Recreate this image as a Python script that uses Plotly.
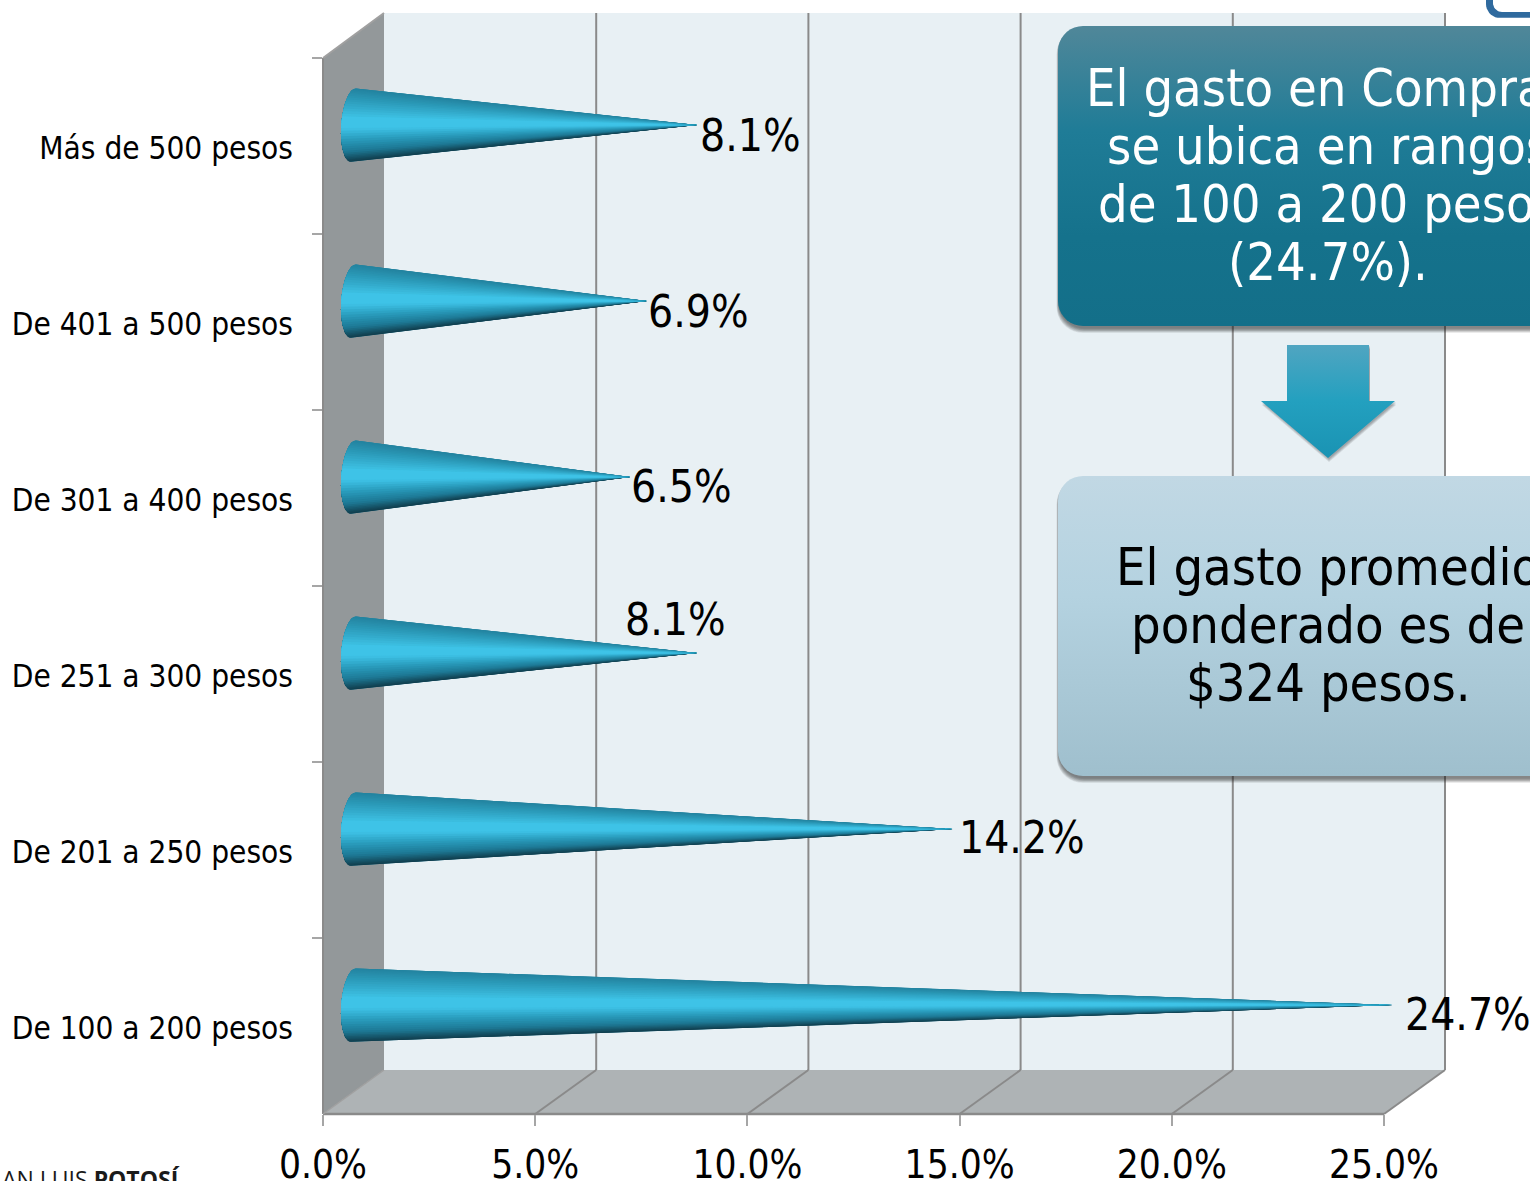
import numpy as np
import plotly.graph_objects as go

categories = ["De 100 a 200 pesos", "De 201 a 250 pesos", "De 251 a 300 pesos",
              "De 301 a 400 pesos", "De 401 a 500 pesos", "Más de 500 pesos"]
values = [24.7, 14.2, 8.1, 6.5, 6.9, 8.1]
value_labels = ["24.7%", "14.2%", "8.1%", "6.5%", "6.9%", "8.1%"]
label_xshift = [11, 4, -74, -1, -1, 1]
label_yshift = [-9, -8, 34, -9, -10, -10]
x_ticks = [0, 5, 10, 15, 20, 25]
x_tick_labels = ["0.0%", "5.0%", "10.0%", "15.0%", "20.0%", "25.0%"]
box1_lines = ["El gasto en Compras", "se ubica en rangos", "de 100 a 200 pesos", "(24.7%)."]
box2_lines = ["El gasto promedio", "ponderado es de", "$324 pesos."]

W, H = 1530, 1181
FONT = "DejaVu Sans Condensed, Tahoma, DejaVu Sans"
X0, X25, XR = 323, 1384, 1445
PX_PER_UNIT = (X25 - X0) / 25
DEPTH_X = XR - X25
Y_TOP_F, Y_BOT_F, Y_TOP_B, Y_BOT_B = 58, 1114, 13, 1070
GRID = "#8a8a8a"


def py(y):
    return 1 - y / H


def px_x(x):
    return x / W


fig = go.Figure()


def poly_shape(pts, fill, line=None, width=0):
    path = "M" + " L".join(f"{px_x(x):.5f},{py(y):.5f}" for x, y in pts) + " Z"
    fig.add_shape(type="path", path=path, xref="paper", yref="paper", fillcolor=fill,
                  line=dict(color=line or fill, width=width), layer="below")


def seg(x1, y1, x2, y2, color=GRID, width=2):
    fig.add_shape(type="line", xref="paper", yref="paper", x0=px_x(x1), x1=px_x(x2),
                  y0=py(y1), y1=py(y2), line=dict(color=color, width=width), layer="below")


# back wall, side wall, floor
poly_shape([(X0 + DEPTH_X, Y_TOP_B), (XR, Y_TOP_B), (XR, Y_BOT_B), (X0 + DEPTH_X, Y_BOT_B)], "#e8f0f4")
poly_shape([(X0, Y_TOP_F), (X0 + DEPTH_X, Y_TOP_B), (X0 + DEPTH_X, Y_BOT_B), (X0, Y_BOT_F)], "#93989a")
poly_shape([(X0, Y_BOT_F), (X0 + DEPTH_X, Y_BOT_B), (XR, Y_BOT_B), (X25, Y_BOT_F)], "#aeb3b5")
for t in x_ticks[1:]:
    fx = X0 + t * PX_PER_UNIT
    seg(fx + DEPTH_X, Y_TOP_B, fx + DEPTH_X, Y_BOT_B)
    seg(fx, Y_BOT_F, fx + DEPTH_X, Y_BOT_B)
seg(X0, Y_BOT_F, X25, Y_BOT_F, width=2.5)
seg(X0, Y_TOP_F, X0, Y_BOT_F)
seg(X0, Y_TOP_F, X0 + DEPTH_X, Y_TOP_B, "#a0a0a0", 2)
seg(X0 + DEPTH_X, Y_BOT_B, X0, Y_BOT_F, "#a0a0a0", 1.5)

# invisible trace so the category axis exists
fig.add_trace(go.Scatter(x=[0] * 6, y=categories, mode="markers", marker=dict(opacity=0),
                         hoverinfo="skip", showlegend=False, xaxis="x", yaxis="y"))

# cones: nested polygons painted from the edges in to the highlight, so there are no seams
STOPS = [(0.0, (36, 132, 160)), (0.12, (42, 150, 180)), (0.42, (64, 198, 234)), (0.56, (60, 190, 226)),
         (0.72, (40, 152, 184)), (0.86, (30, 122, 150)), (1.0, (18, 62, 78))]


def shade(p):
    xs = [s[0] for s in STOPS]
    return "rgb(" + ",".join(str(int(np.interp(p, xs, [s[1][i] for s in STOPS]))) for i in range(3)) + ")"


N = 40
ANG = np.linspace(np.pi / 2, -np.pi / 2, N + 1)
PEAK = int(np.argmin(np.abs((0.5 - 0.5 * np.sin(ANG)) - 0.47)))
A, TILT, R, BASE = 0.29, 0.06, 0.208, -0.11


def cone_piece(i, v, angles, col):
    bx = BASE - A * np.cos(angles) + TILT * np.sin(angles)
    by = i + R * np.sin(angles)
    fig.add_trace(go.Scatter(x=list(bx) + [v, bx[0]], y=list(by) + [i, by[0]], mode="lines", fill="toself",
                             fillcolor=col, line=dict(color=col, width=0),
                             hoverinfo="skip", showlegend=False, xaxis="x2", yaxis="y2"))


for i, v in enumerate(values):
    # outer silhouette, including the thin outline at the base
    cone_piece(i, v, ANG, shade(0.0))
    for k in range(0, PEAK):
        cone_piece(i, v, ANG[k:PEAK + 3], shade(0.5 - 0.5 * np.sin(ANG[k:k + 2].mean())))
    for k in range(N, PEAK, -1):
        cone_piece(i, v, ANG[PEAK:k + 1], shade(0.5 - 0.5 * np.sin(ANG[k - 1:k + 1].mean())))
    # highlight on top hides the hairline where the two halves meet
    cone_piece(i, v, ANG[PEAK - 2:PEAK + 3], shade(0.47))


# page-pixel subplot for callouts
def rrect(x0, y0, x1, y1, r, n=10):
    pts = []
    for cx, cy, a0 in [(x0 + r, y0 + r, 180), (x1 - r, y0 + r, 270), (x1 - r, y1 - r, 0), (x0 + r, y1 - r, 90)]:
        for a in np.radians(np.linspace(a0, a0 + 90, n)):
            pts.append((cx + r * np.cos(a), cy + r * np.sin(a)))
    pts.append(pts[0])
    return zip(*pts)


def deco(xs, ys, fill=None, grad=None, y0=None, y1=None):
    kw = dict(fillcolor=fill) if fill else dict(fillgradient=dict(type="vertical", colorscale=grad, start=y0, stop=y1))
    fig.add_trace(go.Scatter(x=list(xs), y=list(ys), mode="lines", fill="toself", line=dict(width=0, color="rgba(0,0,0,0)"),
                             hoverinfo="skip", showlegend=False, xaxis="x3", yaxis="y3", **kw))


for (y0, y1, grad) in [
    (26, 326, [[0, "#508799"], [0.35, "#1f7c97"], [0.7, "#15728c"], [1, "#136f89"]]),
    (476, 776, [[0, "#c1d8e4"], [0.4, "#b4d2e0"], [1, "#9fbfcd"]]),
]:
    for s in range(8, 0, -1):
        xs, ys = rrect(1058 - s * .3, y0, 1640, y1 + s * .6, 26)
        deco(np.array(xs) + 1, np.array(ys) + 2, fill="rgba(30,30,30,0.09)")
    deco(*rrect(1058, y0, 1640, y1, 25), grad=grad, y0=y0, y1=y1)

ax = [1287, 1369, 1369, 1395, 1328, 1261, 1287, 1287]
ay = [345, 345, 401, 401, 458, 401, 401, 345]
for s in (4, 3, 2, 1):
    deco(np.array(ax) + 1, np.array(ay) + s, fill="rgba(30,30,30,0.10)")
deco(ax, ay, grad=[[0, "#50a5c1"], [0.5, "#23a0bf"], [1, "#1a93b3"]], y0=345, y1=458)

# logo corner
deco(*rrect(1486, -30, 1600, 18, 14), fill="#2f6a9e")
deco(*rrect(1493, -30, 1600, 12, 9), fill="#ffffff")

# clipped footer text at the bottom-left edge
fig.add_trace(go.Scatter(x=[2], y=[1171], mode="text", text=["AN LUIS <b>POTOSÍ</b>"], textposition="bottom right",
                         textfont=dict(family="Open Sans", size=23, color="#1a1a1a"), cliponaxis=False,
                         hoverinfo="skip", showlegend=False, xaxis="x3", yaxis="y3"))

annotations = []
for i, (v, t) in enumerate(zip(values, value_labels)):
    annotations.append(dict(x=v, y=i, xref="x2", yref="y2", text=t, showarrow=False, xanchor="left",
                            yanchor="middle", xshift=label_xshift[i], yshift=label_yshift[i],
                            font=dict(family=FONT, size=44, color="#000000")))
for j, t in enumerate(box1_lines):
    annotations.append(dict(x=1328, y=88 + 58 * j, xref="x3", yref="y3", text=t, showarrow=False,
                            font=dict(family=FONT, size=52, color="#ffffff")))
for j, t in enumerate(box2_lines):
    annotations.append(dict(x=1328, y=567 + 58 * j, xref="x3", yref="y3", text=t, showarrow=False,
                            font=dict(family=FONT, size=52, color="#000000")))

fig.update_layout(
    width=W, height=H, autosize=False, margin=dict(l=0, r=0, t=0, b=0, pad=0, autoexpand=False),
    paper_bgcolor="#ffffff", plot_bgcolor="rgba(0,0,0,0)", showlegend=False,
    annotations=annotations,
    xaxis=dict(domain=[X0 / W, XR / W], range=[0, (XR - X0) / PX_PER_UNIT], tickmode="array",
               tickvals=x_ticks, ticktext=x_tick_labels, ticks="outside", ticklen=11, tickwidth=2, tickcolor="#a6a6a6",
               showgrid=False, zeroline=False, showline=False, anchor="y", automargin=False,
               tickfont=dict(family=FONT, size=38.5, color="#000000"), ticklabelstandoff=6),
    yaxis=dict(domain=[1 - Y_BOT_F / H, 1 - Y_TOP_F / H], type="category", categoryorder="array",
               categoryarray=categories, range=[-0.5, 5.5], ticks="outside", ticklen=10, tickwidth=1.5,
               tickcolor="#a6a6a6", tickson="boundaries", showgrid=False, zeroline=False, showline=False,
               anchor="x", automargin=False, tickfont=dict(family=FONT, size=31.3, color="#000000"),
               ticklabelstandoff=29, ticklabelshift=2),
    xaxis2=dict(overlaying="x", range=[(X0 - 358) / 41.87, (XR - 358) / 41.87], visible=False, anchor="y2"),
    yaxis2=dict(overlaying="y", range=[-0.619, 5.381], visible=False, anchor="x2"),
    xaxis3=dict(domain=[0, 1], range=[0, W], visible=False, anchor="y3"),
    yaxis3=dict(domain=[0, 1], range=[H, 0], visible=False, anchor="x3"),
)

fig.write_html("out.html", post_script="document.body.style.margin='0';document.body.style.overflow='hidden';",
               config={"displayModeBar": False})
